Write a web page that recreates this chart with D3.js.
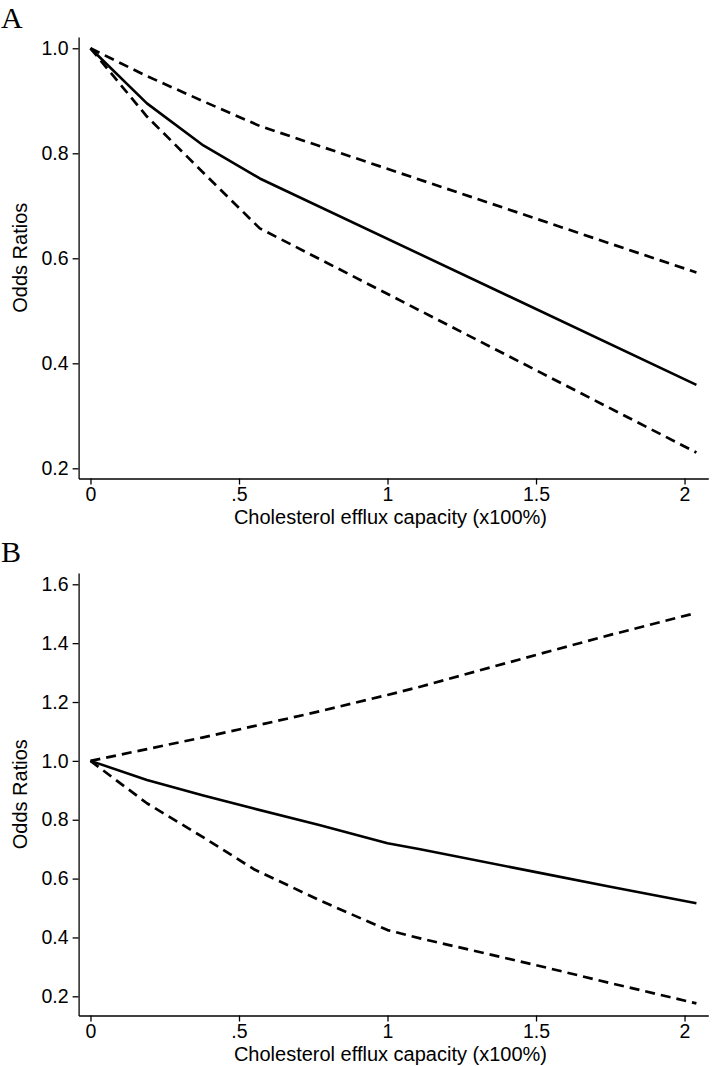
<!DOCTYPE html>
<html>
<head>
<meta charset="utf-8">
<script src="https://cdn.jsdelivr.net/npm/d3@7"></script>
<style>
  html, body { margin: 0; padding: 0; background: #fff; }
  svg { display: block; }
  .tick text { font-family: "Liberation Sans", Arial, sans-serif; }
</style>
</head>
<body>
<svg id="chart" width="712" height="1066"></svg>
<script>
// ---- Data ----
const xTicks = [0, 0.5, 1, 1.5, 2];
const xTickLabels = ["0", ".5", "1", "1.5", "2"];

// Panel A
const aX     = [0, 0.19, 0.38, 0.57, 2.04];
const aOR    = [1.0, 0.895, 0.815, 0.752, 0.359];
const aLower = [1.0, 0.870, 0.763, 0.657, 0.230];
const aUpper = [1.0, 0.947, 0.899, 0.852, 0.573];
const aYTicks = [0.2, 0.4, 0.6, 0.8, 1.0];
const aYTickLabels = ["0.2", "0.4", "0.6", "0.8", "1.0"];

// Panel B
const bX     = [0, 0.19, 0.38, 0.55, 0.77, 1.0, 1.11, 1.5, 1.75, 2.04];
const bOR    = [1.0, 0.935, 0.882, 0.838, 0.782, 0.720, 0.700, 0.622, 0.572, 0.516];
const bLower = [1.0, 0.856, 0.740, 0.632, 0.527, 0.425, 0.397, 0.306, 0.245, 0.176];
const bUpper = [1.0, 1.040, 1.080, 1.118, 1.168, 1.224, 1.252, 1.360, 1.428, 1.503];
const bYTicks = [0.2, 0.4, 0.6, 0.8, 1.0, 1.2, 1.4, 1.6];
const bYTickLabels = ["0.2", "0.4", "0.6", "0.8", "1.0", "1.2", "1.4", "1.6"];

const xTitle = "Cholesterol efflux capacity (x100%)";
const yTitle = "Odds Ratios";

// ---- Drawing ----
const svg = d3.select("#chart");
const FONT = "'Liberation Sans', Arial, sans-serif";

const x = d3.scaleLinear().domain([-0.04, 2.08]).range([78.6, 708.3]);

function panel(cfg) {
  const y = d3.scaleLinear().domain(cfg.yDomain).range(cfg.yRange);
  const g = svg.append("g");
  const axisY = cfg.yRange[0];

  // panel letter
  svg.append("text").attr("x", 1).attr("y", cfg.letterY)
    .attr("font-family", "'Liberation Serif', 'Times New Roman', serif")
    .attr("font-size", 30).attr("fill", "#000").text(cfg.letter);

  // x axis
  const xa = g.append("g").attr("transform", `translate(0,${axisY})`)
    .call(d3.axisBottom(x).tickValues(xTicks)
      .tickFormat((d, i) => xTickLabels[i]).tickSize(6).tickSizeOuter(0).tickPadding(3));
  // y axis
  const ya = g.append("g").attr("transform", `translate(${x.range()[0]},0)`)
    .call(d3.axisLeft(y).tickValues(cfg.yTicks)
      .tickFormat((d, i) => cfg.yTickLabels[i]).tickSize(6).tickSizeOuter(0).tickPadding(4));
  [xa, ya].forEach(a => {
    a.selectAll("path.domain").attr("stroke", "#000").attr("stroke-width", 1.3);
    a.selectAll(".tick line").attr("stroke", "#000").attr("stroke-width", 1.3);
    a.selectAll(".tick text").attr("font-size", 19.5).attr("fill", "#000")
      .attr("font-family", FONT);
  });

  // titles
  g.append("text")
    .attr("x", (x.range()[0] + x.range()[1]) / 2 - 3)
    .attr("y", axisY + 45)
    .attr("text-anchor", "middle")
    .attr("font-family", FONT).attr("font-size", 20).attr("fill", "#000")
    .text(xTitle);
  const cy = (cfg.yRange[0] + cfg.yRange[1]) / 2;
  g.append("text")
    .attr("transform", `translate(27,${cy}) rotate(-90)`)
    .attr("text-anchor", "middle")
    .attr("font-family", FONT).attr("font-size", 20).attr("fill", "#000")
    .text(yTitle);

  const line = d3.line().x(d => x(d[0])).y(d => y(d[1]));
  const series = [
    { v: cfg.upper, dash: "10,6", w: 2.7 },
    { v: cfg.lower, dash: "10,6", w: 2.7 },
    { v: cfg.or, dash: null, w: 2.6 }
  ];
  series.forEach(s => {
    g.append("path")
      .datum(cfg.xs.map((xv, i) => [xv, s.v[i]]))
      .attr("d", line)
      .attr("fill", "none")
      .attr("stroke", "#000")
      .attr("stroke-width", s.w)
      .attr("stroke-linejoin", "round")
      .attr("stroke-dasharray", s.dash);
  });
}

panel({
  letter: "A", letterY: 28,
  yDomain: [0.1806, 1.0215], yRange: [478.5, 37],
  yTicks: aYTicks, yTickLabels: aYTickLabels,
  xs: aX, or: aOR, lower: aLower, upper: aUpper
});

panel({
  letter: "B", letterY: 562,
  yDomain: [0.1348, 1.6384], yRange: [1015.5, 573],
  yTicks: bYTicks, yTickLabels: bYTickLabels,
  xs: bX, or: bOR, lower: bLower, upper: bUpper
});
</script>
</body>
</html>
